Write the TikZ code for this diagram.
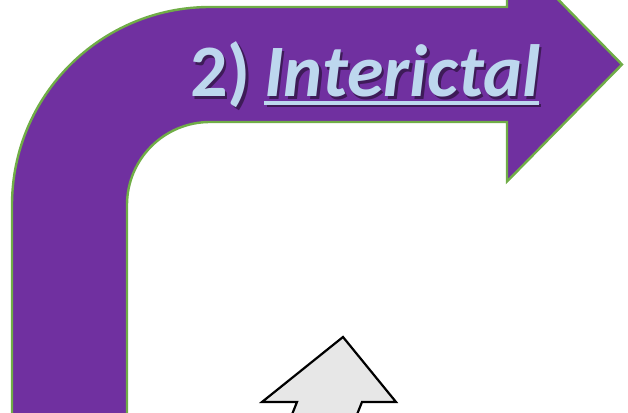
\documentclass[tikz,border=0pt]{standalone}
\usepackage{fontspec}
\setmainfont{Carlito}
\usepackage{xcolor}
\usepackage{tikz}
\usetikzlibrary{positioning,calc}
\definecolor{bendpurple}{RGB}{112,48,160}
\definecolor{edgegreen}{RGB}{112,173,71}
\definecolor{lblblue}{RGB}{189,215,238}
\definecolor{upgrey}{RGB}{231,231,231}
\colorlet{shdcol}{bendpurple!55!black}
\newcommand\shdtext[1]{\makebox[0pt][l]{\hspace{2.5pt}\raisebox{-2.5pt}{\color{shdcol}#1}}#1}
\tikzset{
  bentarr/.style ={fill=bendpurple, draw=edgegreen, line width=2.4pt, line join=miter},
  uparr/.style   ={fill=upgrey, draw=black, line width=2.2pt, line join=miter},
  lbl/.style     ={text=lblblue, inner sep=0pt, font=\fontsize{74}{80}\selectfont\bfseries},
  uline/.style   ={draw=lblblue, line width=3.5pt},
  ulineshd/.style={draw=shdcol, line width=3.5pt},
}
\begin{document}
\begin{tikzpicture}[x=1pt,y=1pt]
\clip (0,0) rectangle (628,412);
% bent arrow
\draw[bentarr] (12,-5) -- (12,207) arc (180:90:198) -- (507,405) -- (507,464.5)
  -- (622,347.5) -- (507,230.5) -- (507,290) -- (210,290) arc (90:180:83) -- (127,-5) -- cycle;
% label
\node[lbl,anchor=base west] (word) at (264,315) {\itshape\shdtext{Interictal}};
\node[lbl,anchor=base east] (num) at (251,315) {\shdtext{2)}};
\draw[ulineshd] ([shift={(2.5,-8.5)}]word.base west) -- ([shift={(0.5,-8.5)}]word.base east);
\draw[uline] ([yshift=-6pt]word.base west) -- ([xshift=-2pt,yshift=-6pt]word.base east);
% grey up arrow
\draw[uparr] (343,75) -- (396,10) -- (362,10) -- (354,-10) -- (289,-10) -- (297,10) -- (262,10) -- cycle;
\end{tikzpicture}
\end{document}
